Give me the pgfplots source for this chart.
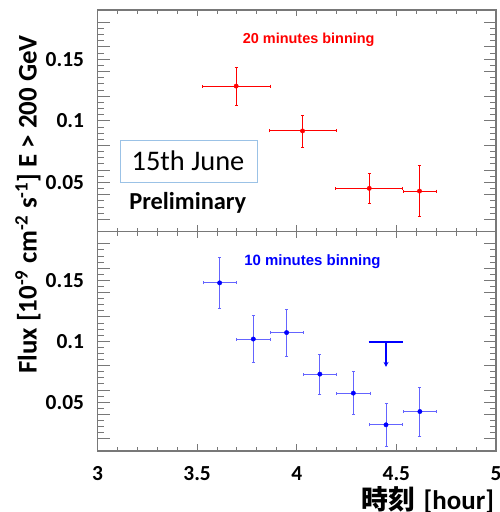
\documentclass[border=0pt]{standalone}
\usepackage{pgfplots}
\pgfplotsset{compat=1.18}
\usepackage{fontspec}
\setmainfont{Carlito}
\newfontfamily\arialf{Liberation Sans}
\newfontfamily\cjk{Noto Sans CJK JP}
\usetikzlibrary{arrows.meta}
\definecolor{axgray}{RGB}{120,120,120}
\definecolor{boxblue}{RGB}{155,194,230}
\definecolor{barblue}{RGB}{100,100,255}
\definecolor{pred}{RGB}{255,0,0}
\definecolor{pblue}{RGB}{0,0,255}

\pgfplotsset{
  panel/.style={
    scale only axis, width=398.5bp,
    xmin=3, xmax=5, ymin=0.01, ymax=0.19,
    axis line style={axgray, line width=1.2bp},
    every tick/.style={axgray, line width=1bp},
    tick align=inside,
    xtick={3,3.5,4,4.5,5}, minor x tick num=4,
    ytick={0.02,0.04,0.06,0.08,0.1,0.12,0.14,0.16,0.18}, minor y tick num=3,
    yticklabels={},
    xtick style={/pgfplots/major tick length=6.5bp,/pgfplots/minor tick length=4bp},
    ytick style={/pgfplots/major tick length=12bp,/pgfplots/minor tick length=6bp},
    extra y ticks={0.05,0.1,0.15},
    extra y tick labels={0.05,0.1,0.15},
    extra y tick style={major tick length=0pt},
    tick label style={font=\fontsize{21.5}{21.5}\selectfont\bfseries},
    yticklabel style={xshift=-10bp},
    xticklabel style={yshift=-12bp},
    clip=false,
  },
}

\pgfplotstableread{
x     ex     y       ey
3.696 0.170  0.1282  0.0153
4.029 0.168  0.0918  0.0130
4.364 0.168  0.0452  0.0124
4.616 0.083  0.0430  0.0205
}\redtab

\pgfplotstableread{
x     ex      y       ey
3.613 0.0833  0.1480  0.0210
3.782 0.0833  0.1019  0.0190
3.949 0.0833  0.1072  0.0192
4.116 0.0833  0.0731  0.0165
4.284 0.0833  0.0575  0.0175
4.448 0.0833  0.0315  0.0176
4.618 0.0833  0.0424  0.0202
}\bluetab

\pgfplotstableread{
x      y
4.361  0.0992
4.532  0.0992
}\ulbar

\pgfplotstableread{
x      y
4.448  0.0992
4.448  0.0790
}\ularrow

\begin{document}
\begin{tikzpicture}
% bottom panel
\begin{axis}[panel, height=219.3bp, at={(0bp,0bp)}, anchor=south west,
  xticklabels={3,3.5,4,4.5,5}]
\addplot[only marks, mark=*, mark size=2.2bp, pblue, mark options={fill=pblue, draw=pblue},
  error bars/.cd, x dir=both, x explicit, y dir=both, y explicit,
  error bar style={barblue, line width=1bp},
  error mark=|,
  error mark options={barblue, line width=0.8bp, mark size=1.5bp}]
  table[x=x, y=y, x error=ex, y error=ey] {\bluetab};
\addplot[pblue, line width=1.8bp, no marks] table[x=x,y=y] {\ulbar};
\addplot[pblue, line width=1.4bp, no marks, -{Stealth[length=5bp,width=5bp]}] table[x=x,y=y] {\ularrow};
\end{axis}
% top panel
\begin{axis}[panel, height=221.7bp, at={(0bp,219.3bp)}, anchor=south west,
  xticklabels={}]
\addplot[only marks, mark=*, mark size=2.2bp, pred, mark options={fill=pred, draw=pred},
  error bars/.cd, x dir=both, x explicit, y dir=both, y explicit,
  error bar style={pred, line width=1.1bp},
  error mark=|,
  error mark options={pred, line width=0.8bp, mark size=1.5bp}]
  table[x=x, y=y, x error=ex, y error=ey] {\redtab};
\end{axis}

% annotations
\node[anchor=base, text=pred, font=\arialf\bfseries\fontsize{14.5}{14.5}\selectfont] at (211.2bp,407.7bp) {20 minutes binning};
\node[anchor=base, text=pblue, font=\arialf\bfseries\fontsize{15}{15}\selectfont] at (215bp,185bp) {10 minutes binning};
\draw[boxblue, line width=1bp] (22.5bp,268.3bp) rectangle (159.8bp,310.3bp);
\node[anchor=base, font=\fontsize{28.5}{28.5}\selectfont] at (90.5bp,280.3bp) {15th June};
\node[anchor=base, font=\bfseries\fontsize{24.5}{24.5}\selectfont] at (90.3bp,241bp) {Preliminary};
\node[rotate=90, anchor=center, font=\bfseries\fontsize{27}{27}\selectfont] at (-69.5bp,246.5bp)
  {Flux [10\textsuperscript{-9} cm\textsuperscript{-2} s\textsuperscript{-1}] E > 200 GeV};
\node[anchor=west, inner sep=0pt, font=\bfseries\fontsize{27}{27}\selectfont] at (264.2bp,-49bp)
  {{\cjk\bfseries 時刻}\hspace{8bp}[hour]};

\pgfresetboundingbox
\path[use as bounding box] (-97.5bp,-61bp) rectangle (402.5bp,451bp);
\end{tikzpicture}
\end{document}
